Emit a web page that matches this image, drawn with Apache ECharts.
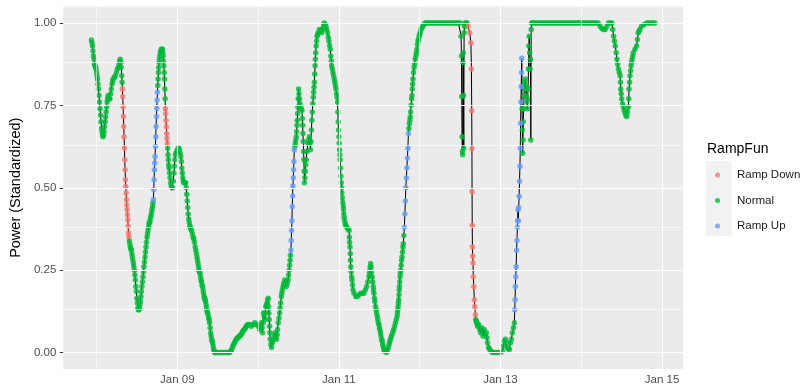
<!DOCTYPE html>
<html>
<head>
<meta charset="utf-8">
<script src="https://cdn.jsdelivr.net/npm/echarts@6/dist/echarts.min.js"></script>
<style>
  html, body { margin: 0; padding: 0; background: #fff; }
  #chart { width: 809px; height: 386px; }
</style>
</head>
<body>
<div id="chart"></div>
<script>
// time = hours since Jan 07 00:00, value = standardized power
const rampDown = [
  [31.7,.80],[31.8,.777],[31.9,.746],[32.0,.716],[32.1,.686],[32.2,.655],[32.3,.62],[32.4,.585],[32.5,.555],[32.6,.524],
  [32.7,.504],[32.8,.484],[32.9,.464],[33.0,.448],[33.1,.433],[33.2,.418],[33.3,.403],[33.4,.383],[33.5,.363],[33.6,.352],
  [44.45,.74],[44.55,.725],[44.65,.705],[44.75,.685],[44.85,.665],[44.95,.65],[45.05,.635],
  [134.37,.99],[134.87,.97],[135.22,.94],[135.37,.86],[135.46,.734],[135.52,.618],[135.56,.488],[135.61,.386],
  [135.67,.32],[135.76,.292],[135.84,.272],[135.93,.23],[136.08,.20],[136.23,.16],[136.37,.14],[136.55,.115]
];

const rampUp = [
  [40.9,.464],[41.0,.494],[41.1,.524],[41.2,.555],[41.3,.575],[41.4,.595],[41.5,.625],[41.6,.655],[41.7,.686],
  [41.8,.716],[41.9,.741],[42.0,.766],[42.1,.79],
  [81.75,.31],[81.85,.34],[81.95,.37],[82.05,.40],[82.15,.443],[82.25,.475],[82.35,.505],[82.45,.53],[82.55,.555],
  [82.65,.58],[82.75,.615],
  [115.45,.38],[115.6,.42],[115.75,.46],[115.9,.50],[116.05,.53],[116.2,.56],[116.35,.59],[116.5,.62],[116.65,.665],
  [148.22,.13],[148.34,.16],[148.42,.20],[148.54,.23],[148.66,.26],[148.78,.31],[148.9,.34],[149.02,.38],[149.1,.40],
  [149.19,.433],[149.31,.40],[149.42,.44],[149.54,.474],[149.66,.52],[149.78,.565],[149.89,.62],[149.98,.696],
  [150.07,.76],[150.16,.807],[150.25,.85],[150.33,.893]
];

const normal = [
  // Jan 07 evening -> Jan 08
  [22.5,.948],[22.65,.94],[22.8,.93],[22.95,.915],[23.1,.90],[23.25,.89],[23.4,.875],[23.55,.87],[23.7,.865],
  [23.85,.86],[24,.85],[24.15,.84],[24.3,.83],[24.45,.815],[24.6,.80],[24.75,.78],[24.9,.76],[25.05,.74],[25.2,.72],
  [25.35,.70],[25.5,.68],[25.65,.67],[25.8,.66],[25.95,.655],[26.1,.66],[26.25,.67],[26.4,.685],[26.55,.70],
  [26.7,.715],[26.85,.73],[27,.745],[27.15,.76],[27.3,.77],[27.45,.78],[27.6,.775],[27.8,.77],[28,.77],[28.2,.785],
  [28.4,.80],[28.6,.815],[28.8,.825],[29,.83],[29.3,.835],[29.6,.84],[29.9,.85],[30.2,.86],[30.5,.865],[30.7,.875],
  [30.9,.885],[31.05,.89],[31.2,.88],[31.35,.865],[31.5,.84],[31.6,.82],
  [33.75,.34],[33.9,.33],[34.05,.32],[34.2,.315],[34.35,.31],[34.5,.30],[34.65,.29],[34.8,.28],[34.95,.27],[35.1,.26],
  [35.25,.25],[35.4,.235],[35.55,.22],[35.7,.20],[35.85,.185],[36,.165],[36.15,.15],[36.3,.135],[36.45,.13],[36.6,.13],
  [36.75,.135],[36.9,.145],[37.05,.155],[37.2,.17],[37.35,.185],[37.5,.20],[37.65,.215],[37.8,.23],[37.95,.245],
  [38.1,.26],[38.25,.275],[38.4,.29],[38.55,.305],[38.7,.32],[38.85,.335],[39,.35],[39.15,.36],[39.3,.37],[39.45,.38],
  [39.6,.39],[39.75,.395],[39.9,.40],[40.05,.41],[40.2,.415],[40.35,.425],[40.5,.435],[40.65,.445],[40.8,.455],
  [42.2,.81],[42.3,.83],[42.4,.85],[42.5,.865],[42.6,.88],[42.7,.89],[42.8,.90],[42.95,.91],[43.1,.915],[43.25,.92],
  [43.4,.92],[43.55,.92],[43.7,.91],[43.8,.90],[43.9,.885],[44,.87],[44.1,.85],[44.2,.83],[44.3,.80],[44.38,.77],
  [45.15,.62],[45.25,.60],[45.35,.585],[45.45,.57],[45.55,.56],[45.7,.545],[45.85,.53],[46,.515],[46.2,.505],[46.4,.50],
  [46.6,.50],[46.8,.52],[47,.545],[47.15,.565],[47.3,.585],[47.45,.60],[47.65,.605],[47.85,.61],[48.05,.615],
  [48.25,.62],[48.45,.62],[48.65,.615],[48.85,.605],[49.05,.595],[49.2,.58],[49.35,.56],[49.5,.545],[49.65,.53],
  [49.8,.52],[50,.515],[50.25,.515],[50.5,.515],[50.65,.50],[50.8,.48],[50.95,.46],[51.1,.44],[51.25,.42],[51.4,.405],
  [51.55,.395],[51.7,.385],[51.85,.38],[52,.375],[52.25,.37],[52.5,.36],[52.7,.35],[52.9,.345],[53.1,.335],[53.3,.32],
  [53.5,.31],[53.7,.30],[53.85,.29],[54,.28],[54.15,.27],[54.3,.26],[54.45,.25],[54.6,.245],[54.75,.24],[54.9,.23],
  [55.05,.22],[55.2,.215],[55.35,.205],[55.5,.20],[55.65,.19],[55.8,.18],[55.95,.17],[56.1,.165],[56.25,.16],
  [56.4,.155],[56.55,.145],[56.7,.135],[56.85,.125],[57,.12],[57.15,.115],[57.3,.105],[57.45,.10],[57.6,.09],
  [57.75,.075],[57.9,.06],[58.05,.05],[58.2,.04],[58.35,.035],[58.5,.03],[58.65,.02],[58.8,.01],[58.95,.005],
  [59.1,0],[59.3,0],[59.5,0],[60,0],[60.5,0],[61,0],[61.5,0],[62,0],[62.5,0],[63,0],[63.5,0],[63.8,.003],[64,.006],
  [64.25,.012],[64.5,.02],[64.75,.025],[65,.03],[65.25,.035],[65.5,.04],[65.75,.043],[66,.045],[66.25,.048],[66.5,.05],
  [66.75,.053],[67,.055],[67.25,.06],[67.5,.065],[67.75,.068],[68,.07],[68.25,.075],[68.5,.08],[68.75,.083],[69,.085],
  [69.5,.085],[70,.08],[70.5,.085],[71,.09],[71.5,.085],[72,.08],[72.5,.07],
  // Jan 10 noisy morning
  [72.75,.08],[73,.09],[73.15,.075],[73.3,.06],[73.45,.09],[73.6,.12],[73.8,.11],[74,.10],[74.15,.12],[74.3,.14],
  [74.5,.145],[74.7,.15],[74.85,.16],[75,.165],[75.1,.14],[75.2,.12],[75.3,.10],[75.4,.08],[75.5,.06],[75.6,.04],
  [75.8,.025],[76,.015],[76.25,.03],[76.5,.04],[76.75,.05],[77,.06],[77.25,.05],[77.5,.04],[77.65,.055],[77.8,.07],
  [78,.09],[78.2,.105],[78.4,.12],[78.55,.135],[78.7,.15],[78.9,.17],[79.05,.18],[79.2,.19],[79.4,.20],[79.6,.21],
  [79.9,.22],[80.15,.21],[80.4,.20],[80.65,.21],[80.9,.22],[81.05,.235],[81.2,.25],[81.35,.265],[81.5,.28],[81.62,.295],
  [82.9,.625],[83.05,.635],[83.2,.645],[83.34,.655],[83.45,.67],[83.55,.69],[83.65,.705],[83.75,.725],[83.84,.745],
  [83.93,.77],[84.02,.80],[84.15,.785],[84.3,.77],[84.45,.755],[84.6,.745],[84.8,.74],[85.02,.735],[85.12,.71],
  [85.22,.69],[85.32,.665],[85.42,.64],[85.52,.61],[85.6,.585],[85.7,.55],[85.78,.515],[85.9,.53],[86,.55],[86.14,.57],
  [86.28,.585],[86.5,.61],[86.78,.635],[87,.645],[87.25,.655],[87.4,.635],[87.55,.615],[87.7,.64],[87.85,.675],
  [87.96,.705],[88.1,.73],[88.25,.755],[88.4,.775],[88.5,.79],[88.62,.805],[88.73,.82],[88.83,.845],[88.93,.87],
  [89.02,.89],[89.12,.91],[89.25,.93],[89.38,.945],[89.52,.96],[89.7,.965],[89.85,.97],[90.2,.98],[90.55,.975],
  [90.9,.97],[91.1,.98],[91.3,.985],[91.5,.995],[91.67,1],[91.9,.995],[92.15,.99],[92.4,.98],[92.67,.97],[92.85,.957],
  [93.05,.945],[93.25,.932],[93.44,.92],[93.6,.90],[93.75,.885],[93.85,.87],[94.05,.86],[94.25,.85],[94.45,.84],
  [94.62,.83],[94.8,.82],[94.95,.81],[95.12,.80],[95.3,.785],[95.45,.775],[95.62,.76],[95.7,.73],[95.8,.70],
  [95.9,.675],[96,.655],[96.09,.635],[96.2,.615],[96.3,.60],[96.38,.585],[96.48,.56],[96.59,.535],[96.7,.515],
  [96.8,.50],[96.88,.485],[97,.47],[97.15,.455],[97.27,.445],[97.38,.435],[97.47,.42],[97.56,.41],[97.7,.40],
  [97.9,.39],[98.1,.385],[98.36,.38],[98.7,.375],[99.03,.37],[99.12,.35],[99.2,.335],[99.3,.32],[99.38,.30],
  [99.45,.28],[99.53,.26],[99.65,.245],[99.78,.23],[99.9,.22],[100.05,.205],[100.2,.19],[100.5,.18],[101,.17],
  [101.5,.17],[102,.175],[102.48,.18],[103,.18],[103.45,.18],[103.85,.19],[104.24,.20],[104.6,.215],[104.92,.23],
  [105.07,.24],[105.2,.25],[105.3,.26],[105.42,.27],[105.55,.26],[105.7,.245],[105.9,.23],[106.05,.215],[106.2,.20],
  [106.3,.19],[106.4,.18],[106.55,.165],[106.7,.155],[106.9,.14],[107.05,.13],[107.2,.12],[107.4,.11],[107.55,.10],
  [107.7,.09],[107.9,.085],[108.05,.075],[108.2,.068],[108.37,.06],[108.5,.05],[108.7,.04],[108.85,.035],[109,.025],
  [109.15,.018],[109.34,.01],[109.55,.005],[109.75,.003],[110.14,0],[110.4,.007],[110.7,.015],[110.9,.025],
  [111.1,.033],[111.31,.04],[111.55,.048],[111.8,.055],[112.05,.063],[112.29,.07],[112.55,.08],[112.8,.09],
  [113.05,.10],[113.29,.11],[113.4,.12],[113.5,.13],[113.6,.14],[113.68,.15],[113.76,.16],[113.85,.175],[113.93,.19],
  [114,.20],[114.08,.215],[114.17,.23],[114.26,.24],[114.38,.25],[114.5,.265],[114.63,.28],[114.76,.29],[114.9,.305],
  [115.02,.32],[115.14,.33],[115.3,.355],
  [116.8,.68],[116.95,.695],[117.1,.705],[117.2,.715],[117.3,.73],[117.45,.75],[117.6,.77],[117.7,.78],[117.8,.80],
  [117.9,.815],[118,.83],[118.17,.85],[118.35,.865],[118.5,.875],[118.67,.89],[118.85,.90],[119,.91],[119.17,.92],
  [119.35,.935],[119.5,.945],[119.64,.95],[119.85,.96],[120,.965],[120.14,.97],[120.4,.98],[120.65,.985],[120.88,.99],
  [121.2,.995],[121.62,1],
  [122,1],[122.5,1],[123,1],[123.5,1],[124,1],[124.5,1],[125,1],[125.5,1],[126,1],[126.5,1],[127,1],[127.5,1],
  [128,1],[128.5,1],[129,1],[129.5,1],[130,1],[130.5,1],[131,1],[131.5,1],[132,1],
  // Jan 12 afternoon drops
  [132.31,.96],[132.4,.90],[132.49,.777],[132.58,.655],[132.66,.61],[132.75,.60],[132.84,.88],[132.93,.91],
  [133.02,.78],[133.1,.62],[133.19,.97],[133.31,.99],[133.43,1],[133.64,.99],[133.84,1],[134.05,1],
  [136.64,.10],[136.8,.095],[136.93,.09],[137.1,.085],[137.23,.08],[137.52,.085],[137.82,.07],[138.11,.06],[138.41,.075],
  [138.79,.05],[139.14,.07],[139.44,.055],[139.79,.06],[140,.045],[140.17,.03],[140.47,.015],[140.76,.01],[141.2,.004],
  [141.65,0],[142.24,0],[142.82,0],[143.41,0],[144,0],[144.59,.005],[144.88,.02],[145.18,.035],[145.47,.04],
  [145.77,.03],[146.06,.015],[146.36,.01],[146.66,.01],[146.95,.03],[147.25,.04],[147.54,.06],[147.84,.075],[148.13,.09],
  // Jan 13 oscillations
  [150.42,.74],[150.51,.675],[150.6,.605],[150.69,.645],[150.77,.70],[150.89,.74],[151.01,.78],[151.13,.82],
  [151.25,.80],[151.36,.83],[151.48,.81],[151.6,.78],[151.72,.80],[151.84,.76],[151.95,.74],[152.07,.77],
  [152.19,.80],[152.31,.86],[152.43,.93],[152.54,.96],[152.66,.91],[152.78,.86],[152.9,.89],[153.01,.645],
  [153.13,.98],[153.25,1],
  [153.5,1],[154,1],[154.5,1],[155,1],[155.5,1],[156,1],[156.5,1],[157,1],[157.5,1],[158,1],[158.5,1],[159,1],
  [159.5,1],[160,1],[160.5,1],[161,1],[161.5,1],[162,1],[162.5,1],[163,1],[163.5,1],[164,1],[164.5,1],[165,1],
  [165.5,1],[166,1],[166.5,1],[167,1],[167.5,1],[168,1],[168.5,1],[169,1],[169.5,1],[170,1],[170.5,1],[171,1],
  [171.5,1],[172,1],[172.5,1],[173,1],
  // Jan 14 dip
  [173.6,.99],[174.1,.983],[174.6,.98],[175.1,.98],[175.6,.99],[176.1,1],[176.6,1],[177.1,1],[177.35,.98],[177.6,.96],
  [177.85,.945],[178.1,.93],[178.35,.91],[178.6,.89],[178.8,.875],[179.04,.86],[179.3,.85],[179.54,.84],[179.63,.82],
  [179.72,.80],[179.86,.785],[180,.77],[180.25,.755],[180.5,.745],[180.75,.735],[181,.727],[181.25,.72],[181.49,.716],
  [181.75,.73],[181.99,.745],[182.1,.77],[182.2,.80],[182.35,.82],[182.49,.84],[182.65,.855],[182.79,.87],[182.95,.88],
  [183.1,.89],[183.3,.90],[183.46,.91],[183.95,.92],[184.44,.93],[184.7,.95],[184.93,.97],[185.15,.975],[185.4,.98],
  [185.9,.99],[186.6,.995],[187.38,1],[188,1],[188.47,1],[189.2,1],[189.85,1]
];

const xMajorHours = [48, 96, 144, 192];   // Jan 09, 11, 13, 15
const xMinorHours = [24, 72, 120, 168];
const yMajor = [0, 0.25, 0.5, 0.75, 1];
const yMinor = [0.125, 0.375, 0.625, 0.875];

const FONT = '"Liberation Sans", Arial, Helvetica, sans-serif';
const COLORS = { 'Ramp Down': '#F8766D', 'Normal': '#00BA38', 'Ramp Up': '#619CFF' };

const allPoints = [...rampDown, ...normal, ...rampUp].sort((a, b) => a[0] - b[0]);
const tFirst = allPoints[0][0];
const tLast = allPoints[allPoints.length - 1][0];
const xMin = tFirst - 0.05 * (tLast - tFirst);
const xMax = tLast + 0.05 * (tLast - tFirst);

function dayLabel(h) {
  const d = new Date(Date.UTC(2020, 0, 7) + h * 3600e3);
  return 'Jan ' + String(d.getUTCDate()).padStart(2, '0');
}

const gridLine = (key, v, w) => ({ [key]: v, lineStyle: { color: '#ffffff', width: w, type: 'solid' } });

const chart = echarts.init(document.getElementById('chart'), null, { renderer: 'canvas' });

const option = {
  animation: false,
  textStyle: { fontFamily: FONT },
  title: {
    text: 'RampFun', left: 702, top: 137,
    textStyle: { fontSize: 14, fontWeight: 'normal', color: '#000', fontFamily: FONT }
  },
  legend: {
    data: ['Ramp Down', 'Normal', 'Ramp Up'],
    orient: 'vertical', left: 710, top: 163,
    icon: 'circle', itemWidth: 29, itemHeight: 5, itemGap: 11.5,
    textStyle: { fontSize: 11.5, color: '#1a1a1a', fontFamily: FONT, lineHeight: 14 },
    selectedMode: false
  },
  graphic: [{
    type: 'rect', left: 706, top: 161, z: 0,
    shape: { width: 25.5, height: 75 },
    style: { fill: '#F2F2F2' }
  }],
  grid: {
    left: 60, right: 126, top: 6.5, bottom: 16.5,
    show: true, backgroundColor: '#EBEBEB', borderWidth: 0
  },
  xAxis: {
    type: 'value', min: xMin, max: xMax,
    axisLine: { show: false },
    splitLine: { show: false },
    axisTick: { show: true, customValues: xMajorHours, length: 3.5, lineStyle: { color: '#333333', width: 1 } },
    axisLabel: {
      customValues: xMajorHours, formatter: dayLabel, margin: 5,
      fontSize: 11.5, color: '#4D4D4D', fontFamily: FONT
    }
  },
  yAxis: {
    type: 'value', min: -0.05, max: 1.05,
    name: 'Power (Standardized)', nameLocation: 'middle', nameGap: 34,
    nameTextStyle: { fontSize: 14.5, color: '#000', fontFamily: FONT },
    axisLine: { show: false },
    splitLine: { show: false },
    axisTick: { show: true, customValues: yMajor, length: 3.5, lineStyle: { color: '#333333', width: 1 } },
    axisLabel: {
      customValues: yMajor, formatter: v => v.toFixed(2), margin: 7,
      fontSize: 11.5, color: '#4D4D4D', fontFamily: FONT
    }
  },
  series: [
    {
      name: 'grid', type: 'line', data: [], z: 1, silent: true,
      markLine: {
        silent: true, animation: false, symbol: ['none', 'none'],
        label: { show: false }, emphasis: { disabled: true },
        data: [
          ...xMinorHours.map(h => gridLine('xAxis', h, 0.6)),
          ...yMinor.map(v => gridLine('yAxis', v, 0.6)),
          ...xMajorHours.map(h => gridLine('xAxis', h, 1.2)),
          ...yMajor.map(v => gridLine('yAxis', v, 1.2))
        ]
      }
    },
    {
      name: 'path', type: 'line', data: allPoints, z: 2,
      showSymbol: false, silent: true,
      lineStyle: { color: '#000', width: 1 }
    },
    {
      name: 'Normal', type: 'scatter', data: normal, z: 3, symbolSize: 5.5,
      itemStyle: { color: COLORS['Normal'] }
    },
    {
      name: 'Ramp Down', type: 'scatter', data: rampDown, z: 4, symbolSize: 5.5,
      itemStyle: { color: COLORS['Ramp Down'] }
    },
    {
      name: 'Ramp Up', type: 'scatter', data: rampUp, z: 4, symbolSize: 5.5,
      itemStyle: { color: COLORS['Ramp Up'] }
    }
  ]
};

chart.setOption(option);
</script>
</body>
</html>
